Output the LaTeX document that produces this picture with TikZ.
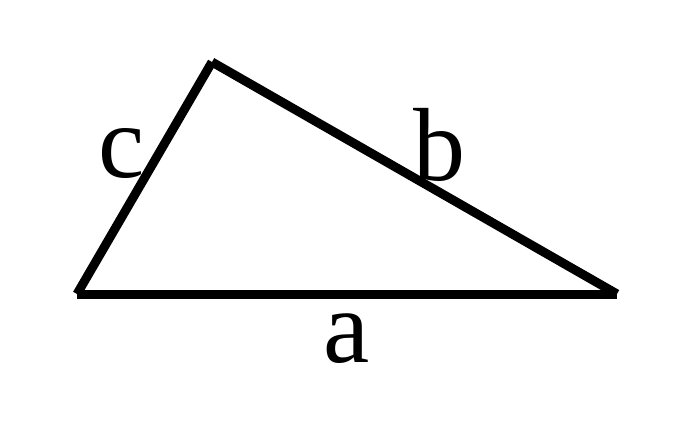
\documentclass[tikz,border=0pt]{standalone}
\usepackage{fontspec}
\setmainfont{Liberation Serif}
\begin{document}
\begin{tikzpicture}[x=1pt, y=-1pt,
        side/.style={line width=9pt, line cap=butt},
        lbl/.style={anchor=base, inner sep=0pt, font=\fontsize{104}{104}\selectfont}]
        \useasboundingbox (0, 0) rectangle (690, 424);
        \coordinate (L) at (77, 294);
        \coordinate (T) at (212, 62);
        \coordinate (R) at (617, 294);
        \draw[side] (L) -- (R);
        \draw[side] (L) -- (T);
        \draw[side] (T) -- (R);
        \node[lbl] (a) at (347, 362) {a};
        \node[lbl] (b) at (439, 180) {b};
        \node[lbl] (c) at (122, 177) {c};
    \end{tikzpicture}
\end{document}
